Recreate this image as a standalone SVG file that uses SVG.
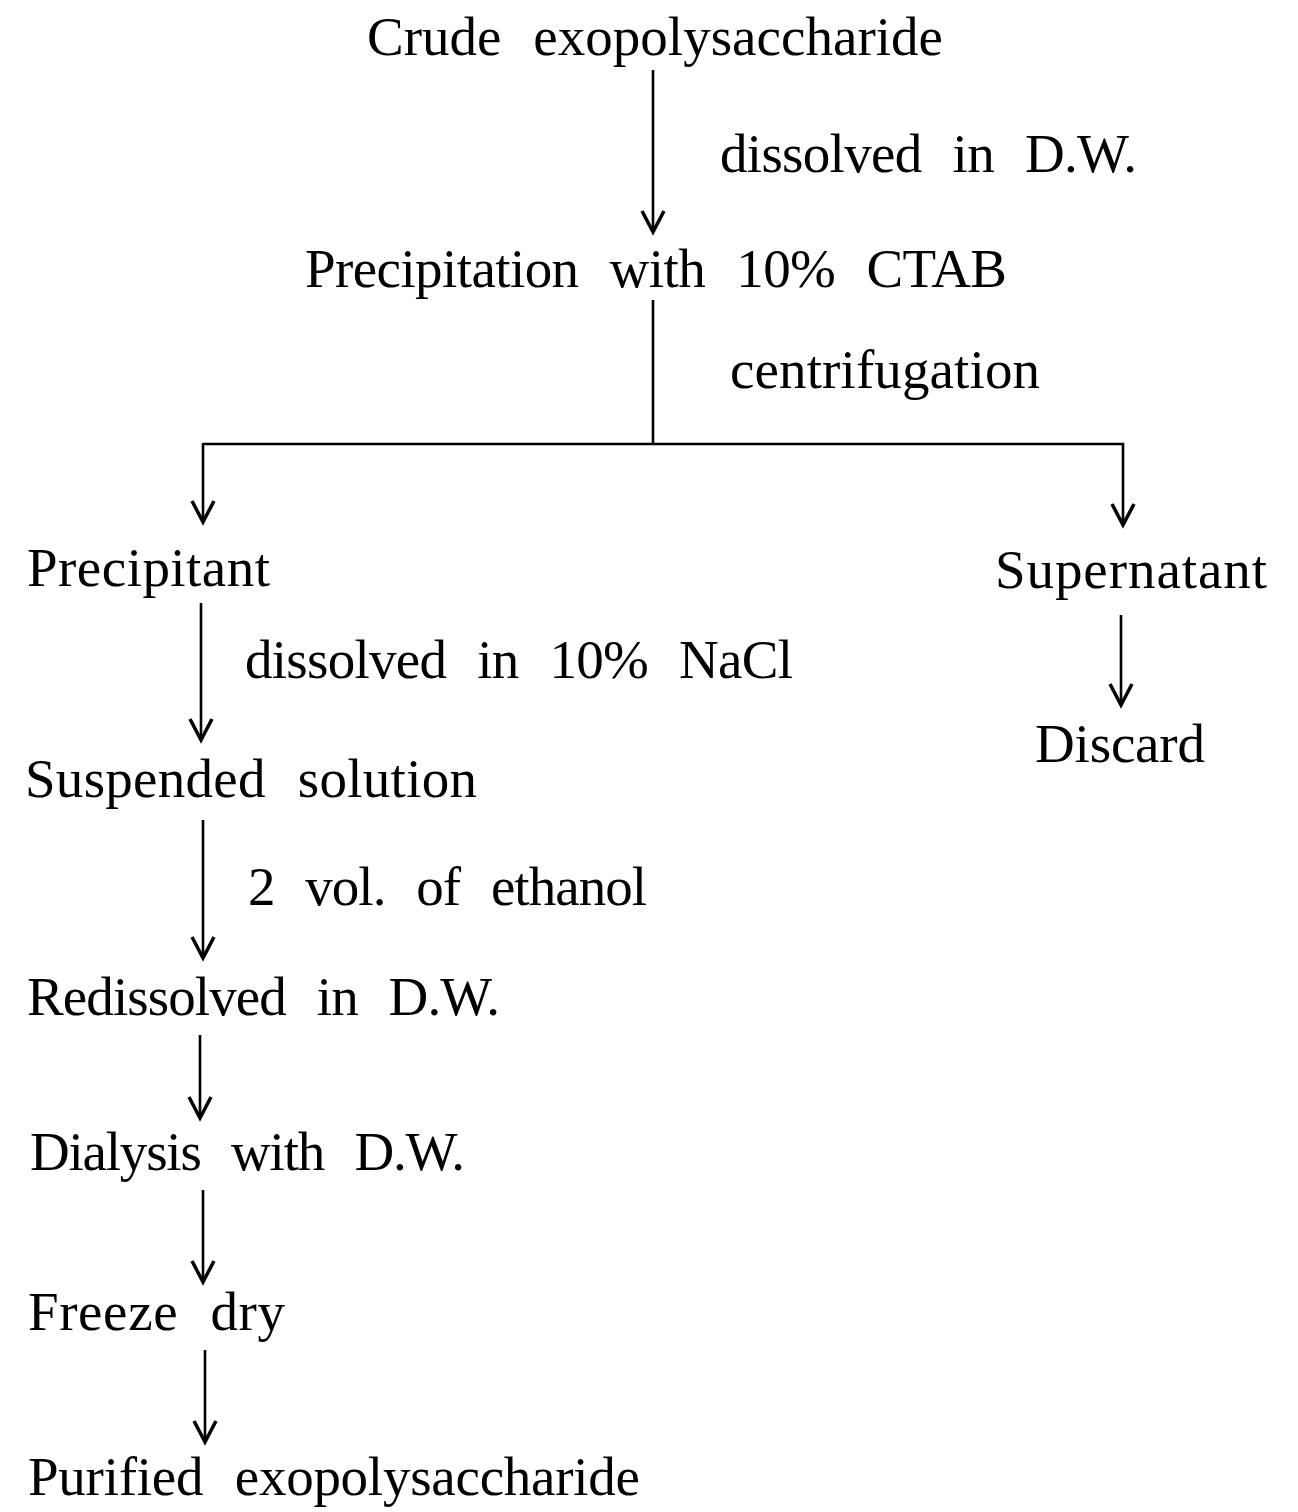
<svg xmlns="http://www.w3.org/2000/svg" width="1298" height="1512" viewBox="0 0 1298 1512">
<defs>
<style>
text{font-family:"Liberation Serif","Times New Roman",serif;font-size:55px;fill:#000;word-spacing:18px}
.c line,.c polyline{stroke:#000;stroke-width:2.6;fill:none}
</style>
<marker id="ah" markerUnits="userSpaceOnUse" viewBox="-24 -14 28 28" refX="0" refY="0" markerWidth="28" markerHeight="28" orient="auto">
<path d="M-21,-11 L0,0 L-21,11" fill="none" stroke="#000" stroke-width="3.5" stroke-linejoin="miter"/>
</marker>
</defs>
<rect width="1298" height="1512" fill="#fff"/>
<g id="n1"><text x="367" y="55" textLength="576" lengthAdjust="spacing">Crude exopolysaccharide</text></g>
<g id="n2"><text x="305" y="287" textLength="702" lengthAdjust="spacing">Precipitation with 10% CTAB</text></g>
<g id="n3"><text x="27" y="586" textLength="243" lengthAdjust="spacing">Precipitant</text></g>
<g id="n4"><text x="995" y="588" textLength="272" lengthAdjust="spacing">Supernatant</text></g>
<g id="n5"><text x="1035" y="762" textLength="170" lengthAdjust="spacing">Discard</text></g>
<g id="n6"><text x="25" y="797" textLength="452" lengthAdjust="spacing">Suspended solution</text></g>
<g id="n7"><text x="27" y="1015" textLength="473" lengthAdjust="spacing">Redissolved in D.W.</text></g>
<g id="n8"><text x="30" y="1170" textLength="435" lengthAdjust="spacing">Dialysis with D.W.</text></g>
<g id="n9"><text x="28" y="1330" textLength="257" lengthAdjust="spacing">Freeze dry</text></g>
<g id="n10"><text x="28" y="1495" textLength="612" lengthAdjust="spacing">Purified exopolysaccharide</text></g>
<g id="connectors" class="c">
<line x1="653" y1="70" x2="653" y2="232" marker-end="url(#ah)"/>
<line x1="653" y1="300" x2="653" y2="445"/>
<polyline points="203,444 1123,444 1123,525" marker-end="url(#ah)"/>
<line x1="203" y1="443" x2="203" y2="522" marker-end="url(#ah)"/>
<line x1="201" y1="603" x2="201" y2="740" marker-end="url(#ah)"/>
<line x1="1121" y1="615" x2="1121" y2="705" marker-end="url(#ah)"/>
<line x1="203" y1="820" x2="203" y2="958" marker-end="url(#ah)"/>
<line x1="200" y1="1035" x2="200" y2="1118" marker-end="url(#ah)"/>
<line x1="203" y1="1190" x2="203" y2="1282" marker-end="url(#ah)"/>
<line x1="205" y1="1350" x2="205" y2="1442" marker-end="url(#ah)"/>
<text x="720" y="172" textLength="417" lengthAdjust="spacing">dissolved in D.W.</text>
<text x="730" y="388" textLength="310" lengthAdjust="spacing">centrifugation</text>
<text x="245" y="678" textLength="548" lengthAdjust="spacing">dissolved in 10% NaCl</text>
<text x="248" y="905" textLength="399" lengthAdjust="spacing">2 vol. of ethanol</text>
</g>
</svg>
